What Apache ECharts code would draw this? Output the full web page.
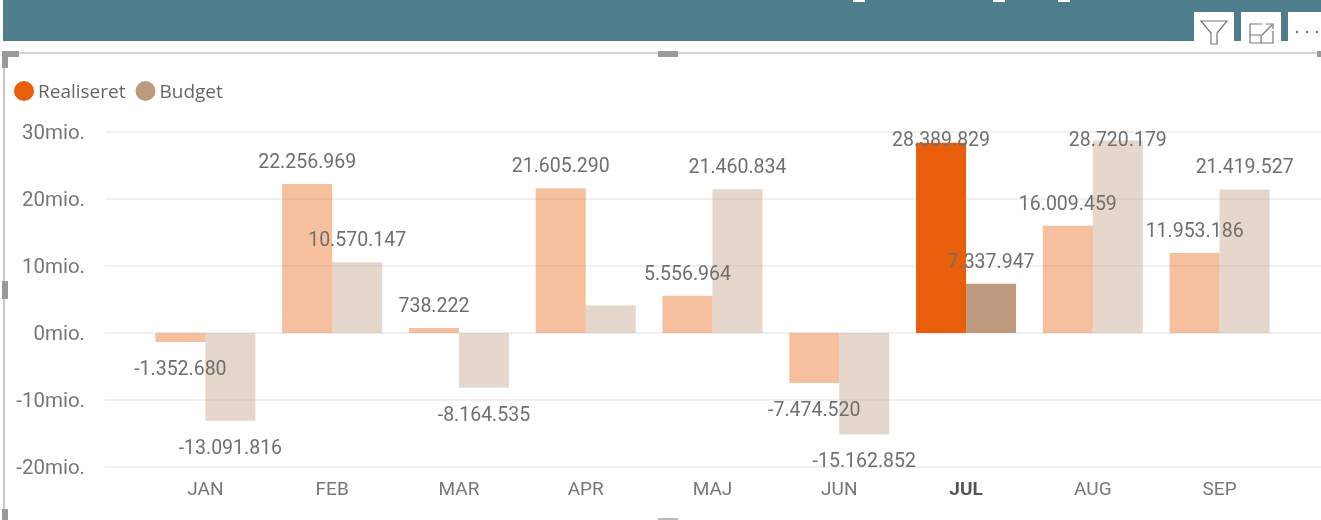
<!DOCTYPE html>
<html>
<head>
<meta charset="utf-8">
<style>
  html, body { margin: 0; padding: 0; background: #fff; }
  #main { width: 1321px; height: 520px; }
</style>
</head>
<body>
<div id="main"></div>
<script src="https://cdn.jsdelivr.net/npm/echarts@6/dist/echarts.min.js"></script>
<script>
var months = ["JAN", "FEB", "MAR", "APR", "MAJ", "JUN", "JUL", "AUG", "SEP"];
var realiseret = [-1352680, 22256969, 738222, 21605290, 5556964, -7474520, 28389829, 16009459, 11953186];
var budget = [-13091816, 10570147, -8164535, 4100000, 21460834, -15162852, 7337947, 28720179, 21419527];
var yTicks = { min: -20000000, max: 30000000, step: 10000000 };
var selectedMonth = "JUL";
var unlabelledBudget = ["APR"];

var labelFont = 'Roboto, sans-serif';
var plotTop = 132;
var plotHeight = 335;
// labels of bars this tall get pushed back inside the plot
var labelCeiling = 25000000;
var labelTopY = 141;

function dotted(v) {
  return String(v).replace(/\B(?=(\d{3})+(?!\d))/g, ".");
}

function clampOffset(v) {
  var barTop = plotTop + (yTicks.max - v) * plotHeight / (yTicks.max - yTicks.min);
  return labelTopY - (barTop - 21);
}

// bars outside the selected month are faded, like a cross-highlight
function barData(values, hideLabelFor) {
  return values.map(function (v, i) {
    var m = months[i];
    var item = {
      value: v,
      itemStyle: { opacity: m === selectedMonth ? 1 : 0.4 },
      label: { position: v < 0 ? "bottom" : "top", opacity: 1 }
    };
    if (v < 0) {
      item.label.distance = 18;
    }
    if (v > labelCeiling) {
      item.label.offset = [0, clampOffset(v)];
    }
    if (hideLabelFor && hideLabelFor.indexOf(m) >= 0) {
      item.label.show = false;
    }
    return item;
  });
}

function barSeries(name, values, color, hideLabelFor) {
  return {
    name: name,
    type: "bar",
    xAxisIndex: 0,
    yAxisIndex: 0,
    barWidth: 50,
    barGap: 0,
    itemStyle: { color: color },
    data: barData(values, hideLabelFor),
    z: 3,
    label: {
      show: true,
      distance: 11,
      color: "#6f6f6f",
      fontFamily: labelFont,
      fontSize: 19.5,
      formatter: function (p) { return dotted(p.value); }
    }
  };
}

var chart = echarts.init(document.getElementById("main"));

chart.setOption({
  animation: false,
  textStyle: { fontFamily: labelFont },
  legend: {
    left: 9,
    top: 76,
    icon: "circle",
    itemWidth: 20,
    itemHeight: 20,
    itemGap: 10,
    formatter: "{t|{name}}",
    textStyle: {
      padding: [0, 0, 0, -1],
      rich: { t: { fontFamily: '"Open Sans", sans-serif', fontSize: 19, color: "#666", padding: [4, 0, 0, 0] } }
    },
    data: ["Realiseret", "Budget"]
  },
  grid: [
    { left: 142, right: 38, top: plotTop, height: plotHeight },
    { left: 105, right: 0, top: plotTop, height: plotHeight }
  ],
  xAxis: [
    {
      type: "category",
      gridIndex: 0,
      data: months,
      position: "bottom",
      axisLine: { show: false, onZero: false },
      axisTick: { show: false },
      axisLabel: {
        margin: 14,
        fontSize: 19,
        color: "#777",
        fontFamily: labelFont,
        formatter: function (v) { return v === selectedMonth ? "{sel|" + v + "}" : v; },
        rich: { sel: { fontWeight: "bold", fontSize: 19, color: "#555", fontFamily: labelFont } }
      }
    },
    { type: "category", gridIndex: 1, show: false, data: [] }
  ],
  yAxis: [
    {
      type: "value",
      gridIndex: 0,
      min: yTicks.min,
      max: yTicks.max,
      interval: yTicks.step,
      show: false
    },
    {
      type: "value",
      gridIndex: 1,
      min: yTicks.min,
      max: yTicks.max,
      interval: yTicks.step,
      axisLine: { show: false },
      axisTick: { show: false },
      splitLine: { show: true, lineStyle: { color: "#f0f0f0", width: 2 } },
      axisLabel: {
        margin: 20,
        formatter: function (v) { return "{t|" + v / 1000000 + "mio.}"; },
        rich: { t: { fontSize: 20.5, color: "#777", fontFamily: labelFont, padding: [4, 0, 0, 0] } }
      }
    }
  ],
  series: [
    barSeries("Realiseret", realiseret, "#e95e0b"),
    barSeries("Budget", budget, "#bd9a7e", unlabelledBudget)
  ],
  graphic: [
    { type: "rect", silent: true, shape: { x: 3, y: 0, width: 1318, height: 41 }, style: { fill: "#4e7d8c" } },
    { type: "rect", silent: true, shape: { x: 1194, y: 12, width: 40, height: 30 }, style: { fill: "#fff" } },
    { type: "rect", silent: true, shape: { x: 1241, y: 12, width: 40, height: 30 }, style: { fill: "#fff" } },
    { type: "rect", silent: true, shape: { x: 1288, y: 12, width: 33, height: 30 }, style: { fill: "#fff" } },
    // clipped bottoms of the title letters
    { type: "rect", silent: true, shape: { x: 853, y: 0, width: 12, height: 2 }, style: { fill: "#fff" } },
    { type: "rect", silent: true, shape: { x: 993, y: 0, width: 12, height: 2 }, style: { fill: "#fff" } },
    { type: "rect", silent: true, shape: { x: 1058, y: 0, width: 12, height: 2 }, style: { fill: "#fff" } },
    // funnel
    { type: "polygon", silent: true, shape: { points: [[1201, 21], [1227, 21], [1217, 33], [1217, 44], [1211, 44], [1211, 33]] }, style: { fill: "none", stroke: "#777", lineWidth: 1.2 } },
    // focus mode
    { type: "polyline", silent: true, shape: { points: [[1262, 24], [1250, 24], [1250, 43], [1273, 43], [1273, 31]] }, style: { fill: "none", stroke: "#777", lineWidth: 1.2 } },
    { type: "polyline", silent: true, shape: { points: [[1250, 35], [1261, 35], [1261, 43]] }, style: { fill: "none", stroke: "#777", lineWidth: 1.2 } },
    { type: "polyline", silent: true, shape: { points: [[1262, 35], [1272, 25]] }, style: { fill: "none", stroke: "#777", lineWidth: 1.2 } },
    { type: "polyline", silent: true, shape: { points: [[1266, 24], [1273, 24], [1273, 29]] }, style: { fill: "none", stroke: "#777", lineWidth: 1.2 } },
    // more options
    { type: "circle", silent: true, shape: { cx: 1297, cy: 32, r: 1.3 }, style: { fill: "#777" } },
    { type: "circle", silent: true, shape: { cx: 1307, cy: 32, r: 1.3 }, style: { fill: "#777" } },
    { type: "circle", silent: true, shape: { cx: 1317, cy: 32, r: 1.3 }, style: { fill: "#777" } },
    // visual frame and resize handles
    { type: "rect", silent: true, shape: { x: 4, y: 52, width: 1317, height: 2 }, style: { fill: "#d4d4d4" } },
    { type: "rect", silent: true, shape: { x: 3, y: 52, width: 2, height: 468 }, style: { fill: "#c8c8c8" } },
    { type: "rect", silent: true, shape: { x: 2, y: 51, width: 17, height: 6 }, style: { fill: "#999" } },
    { type: "rect", silent: true, shape: { x: 2, y: 51, width: 6, height: 17 }, style: { fill: "#999" } },
    { type: "rect", silent: true, shape: { x: 658, y: 51, width: 20, height: 6 }, style: { fill: "#999" } },
    { type: "rect", silent: true, shape: { x: 2, y: 281, width: 6, height: 18 }, style: { fill: "#999" } },
    { type: "rect", silent: true, shape: { x: 1317, y: 51, width: 4, height: 6 }, style: { fill: "#999" } },
    { type: "rect", silent: true, shape: { x: 2, y: 509, width: 6, height: 11 }, style: { fill: "#999" } },
    { type: "rect", silent: true, shape: { x: 658, y: 518, width: 20, height: 2 }, style: { fill: "#bbb" } }
  ]
});
</script>
</body>
</html>
